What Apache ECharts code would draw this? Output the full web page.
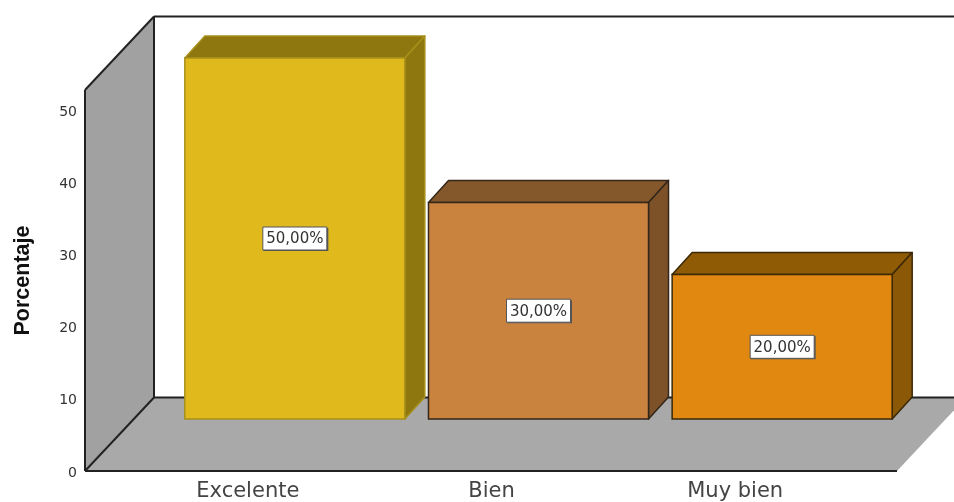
<!DOCTYPE html>
<html>
<head>
<meta charset="utf-8">
<style>html,body{margin:0;padding:0;background:#fff}#c{width:954px;height:502px;filter:blur(0.4px)}</style>
<script src="https://cdn.jsdelivr.net/npm/echarts@6/dist/echarts.min.js"></script>
</head>
<body>
<div id="c"></div>
<script>
const categories = ['Excelente', 'Bien', 'Muy bien'];
const values = [50, 30, 20];
const valueLabels = ['50,00%', '30,00%', '20,00%'];
const yTicks = [0, 10, 20, 30, 40, 50];

const faces = [
  { front: '#e0b91c', top: '#8f7710', side: '#8f7710', line: '#a8901c' },
  { front: '#c9833f', top: '#85582b', side: '#7d5229', line: '#33261a' },
  { front: '#e0880f', top: '#8f5b05', side: '#8a5806', line: '#3a2806' }
];
const LINE = '#222';
const FONT = '"DejaVu Sans", sans-serif';

function poly(points, fill, stroke, lw) {
  return { type: 'polygon', shape: { points }, style: { fill, stroke: stroke || null, lineWidth: lw || 0, lineJoin: 'round' } };
}
function seg(a, b, w) {
  return { type: 'line', shape: { x1: a[0], y1: a[1], x2: b[0], y2: b[1] }, style: { stroke: LINE, lineWidth: w || 2 } };
}

function renderFrame(params, api) {
  const cs = params.coordSys;
  const y0 = api.coord([0, 0])[1];
  const yTop = cs.y - 20;
  const L = cs.x - 41, R = cs.x + cs.width + 40;
  const dx = 69, dy = 73.5;
  const children = [
    poly([[L, y0], [R, y0], [R + dx, y0 - dy], [L + dx, y0 - dy]], '#a9a9a9'),
    poly([[L, y0], [L, yTop], [L + dx, yTop - dy], [L + dx, y0 - dy]], '#a1a1a1'),
    seg([L, y0], [R, y0]),
    seg([L, y0], [L, yTop]),
    seg([L, yTop], [L + dx, yTop - dy]),
    seg([L + dx, yTop - dy], [954, yTop - dy]),
    seg([L + dx, yTop - dy], [L + dx, y0 - dy]),
    seg([L, y0], [L + dx, y0 - dy]),
    seg([L + dx, y0 - dy], [954, y0 - dy])
  ];
  return { type: 'group', children };
}

function renderBar(params, api) {
  const i = api.value(0);
  const v = api.value(1);
  const f = faces[i];
  const base = api.coord([i, 0]);
  const topPt = api.coord([i, v]);
  const w = api.size([1, 0])[0] * 0.903;
  const ox = 47, oy = -52, dx = 20, dy = -22;
  const x0 = base[0] + ox - w / 2, x1 = x0 + w;
  const yb = base[1] + oy, yt = topPt[1] + oy;
  const cx = (x0 + x1) / 2, cy = (yb + yt) / 2;
  return {
    type: 'group',
    children: [
      poly([[x0, yt], [x0 + dx, yt + dy], [x1 + dx, yt + dy], [x1, yt]], f.top, f.line, 1.5),
      poly([[x1, yt], [x1 + dx, yt + dy], [x1 + dx, yb + dy], [x1, yb]], f.side, f.line, 1.5),
      { type: 'rect', shape: { x: x0, y: yt, width: w, height: yb - yt }, style: { fill: f.front, stroke: f.line, lineWidth: 1.5 } },
      { type: 'rect', shape: { x: cx - 31.5, y: cy - 10.5, width: 65, height: 23 }, style: { fill: '#555' } },
      { type: 'rect', shape: { x: cx - 32, y: cy - 11.5, width: 64, height: 23 }, style: { fill: '#fff', stroke: '#555', lineWidth: 1 } },
      { type: 'text', style: { x: cx, y: cy + 1, text: valueLabels[i], fill: '#333', font: '15px ' + FONT, align: 'center', verticalAlign: 'middle' } }
    ]
  };
}

const chart = echarts.init(document.getElementById('c'), null, { renderer: 'canvas' });
chart.setOption({
  animation: false,
  backgroundColor: '#fff',
  grid: { left: 126, width: 731, top: 110, bottom: 31, outerBoundsMode: 'none' },
  xAxis: {
    type: 'category',
    data: categories,
    axisLine: { show: false },
    axisTick: { show: false },
    axisLabel: { color: '#444', fontFamily: FONT, fontSize: 21, margin: 10 }
  },
  yAxis: {
    type: 'value',
    min: yTicks[0],
    max: yTicks[yTicks.length - 1],
    interval: yTicks[1] - yTicks[0],
    offset: 41,
    name: 'Porcentaje',
    nameLocation: 'middle',
    nameGap: 51,
    nameRotate: 90,
    nameTextStyle: { color: '#111', fontFamily: '"Liberation Sans", Arial, sans-serif', fontWeight: 'bold', fontSize: 21.5, padding: [0, 0, 0, 20] },
    axisLine: { show: false },
    axisTick: { show: false },
    splitLine: { show: false },
    axisLabel: { color: '#333', fontFamily: FONT, fontSize: 14, margin: 8, verticalAlign: 'top', lineHeight: 4 }
  },
  series: [
    { type: 'custom', coordinateSystem: 'cartesian2d', data: [[0, 0]], renderItem: renderFrame, silent: true, z: 1 },
    { type: 'custom', coordinateSystem: 'cartesian2d', data: values.map((v, i) => [i, v]), encode: { x: 0, y: 1 }, renderItem: renderBar, z: 2 }
  ]
});
</script>
</body>
</html>
